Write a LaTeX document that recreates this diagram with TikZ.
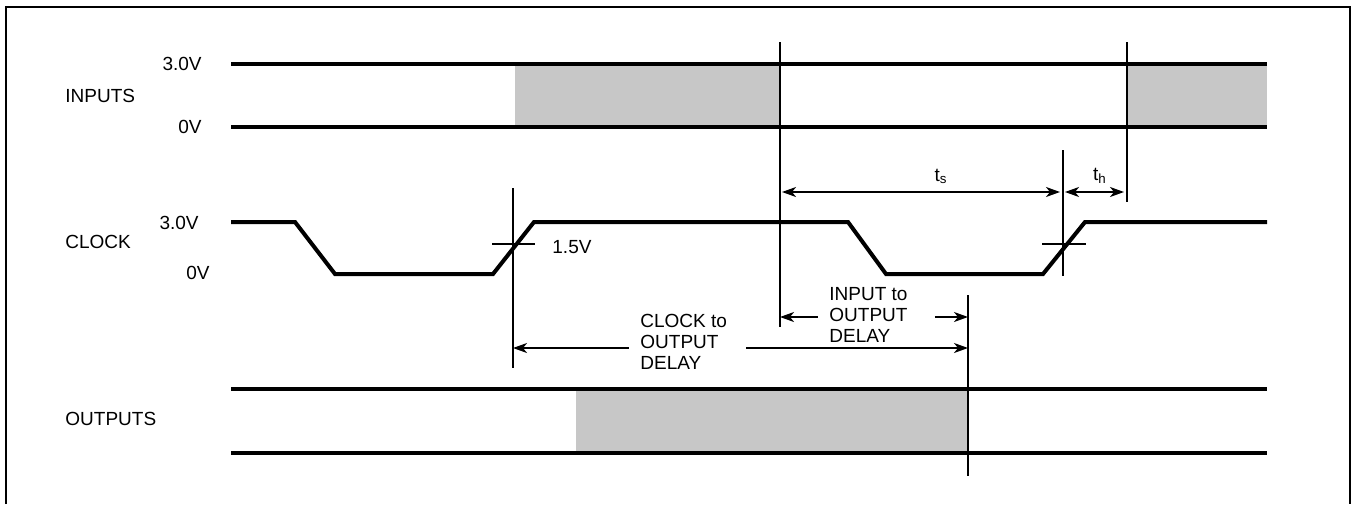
\documentclass[tikz,border=0pt]{standalone}
\usepackage{fontspec}
\setmainfont{Liberation Sans}
\usetikzlibrary{arrows.meta}

\begin{document}
\begin{tikzpicture}[
    x=0.5pt, y=-0.5pt,
    >={Stealth[length=7pt,width=5pt,inset=2pt]},
    every node/.style={font=\fontsize{9.5}{10.5}\selectfont},
    signal/.style={line width=2pt},
    marker/.style={line width=1pt},
    dimline/.style={line width=0.8pt},
    stipple/.style={fill=black!22},
    rowlabel/.style={anchor=west, inner sep=0pt},
    level/.style={anchor=east, inner sep=0pt},
    delaytext/.style={
      anchor=west,
      align=left,
      inner xsep=5.5pt,
      inner ysep=0pt
    }
  ]
    \useasboundingbox (0,0) rectangle (1353,504);
    \draw[line width=1pt] (6,504) -- (6,7) -- (1350,7) -- (1350,504);

    % row labels
    \node[rowlabel] (inputs) at (65,96) {INPUTS};
    \node[level] (inhigh) at (202,64) {3.0V};
    \node[level] (inlow) at (202,127) {0V};
    \node[rowlabel] (clock) at (65,242) {CLOCK};
    \node[level] (ckhigh) at (199,223) {3.0V};
    \node[level] (cklow) at (210,273) {0V};
    \node[rowlabel] (outputs) at (65,419) {OUTPUTS};

    % shaded (changing) regions
    \fill[stipple] (515,64) rectangle (780,127);
    \fill[stipple] (1127,64) rectangle (1267,127);
    \fill[stipple] (576,389) rectangle (968,453);

    % waveforms
    \draw[signal] (231,64) -- (1267,64);
    \draw[signal] (231,127) -- (1267,127);
    \draw[signal] (231,222) -- (295,222) -- (335,274) -- (493,274) -- (534,222)
      -- (848,222) -- (886,274) -- (1043,274) -- (1085,222) -- (1267,222);
    \draw[signal] (231,389) -- (1267,389);
    \draw[signal] (231,453) -- (1267,453);

    % reference lines
    \coordinate (inchange) at (780,42);
    \coordinate (inhold) at (1127,42);
    \coordinate (ckedge) at (1063,150);
    \coordinate (ckfirst) at (513,188);
    \coordinate (outvalid) at (968,295);
    \draw[marker] (inchange) -- ++(0,285);
    \draw[marker] (inhold) -- ++(0,160);
    \draw[marker] (ckedge) -- ++(0,126);
    \draw[marker] (ckfirst) -- ++(0,180);
    \draw[marker] (outvalid) -- ++(0,181);
    \draw[marker] (492,244) -- (535,244);
    \draw[marker] (1042,244) -- (1086,244);
    \node[anchor=west, inner sep=0pt] (half) at (552,247) {1.5V};

    % setup and hold
    \coordinate (tsL) at (inchange |- 0,192);
    \coordinate (tsR) at (ckedge |- 0,192);
    \coordinate (thR) at (inhold |- 0,192);
    \node (tsetup) at (941,176) {t\textsubscript{s}};
    \node (thold) at (1100,176) {t\textsubscript{h}};
    \path[dimline, <->, shorten <=1pt, shorten >=1.5pt]
      (tsL) edge (tsR)
      (tsR) edge (thR);

    % delays
    \coordinate (ckL) at (ckfirst |- 0,348);
    \coordinate (ckR) at (outvalid |- 0,348);
    \coordinate (inL) at (inchange |- 0,317);
    \coordinate (inR) at (outvalid |- 0,317);
    \node[delaytext] (ckdelay) at (629,342) {CLOCK to\\OUTPUT\\DELAY};
    \node[delaytext] (indelay) at (818,315) {INPUT to\\OUTPUT\\DELAY};
    \draw[dimline, <-] (ckL) -- (ckL -| ckdelay.west);
    \draw[dimline, ->, shorten <=4pt] (ckL -| ckdelay.east) -- (ckR);
    \draw[dimline, <-] (inL) -- (inL -| indelay.west);
    \draw[dimline, ->, shorten <=8pt] (inL -| indelay.east) -- (inR);
  \end{tikzpicture}
\end{document}
